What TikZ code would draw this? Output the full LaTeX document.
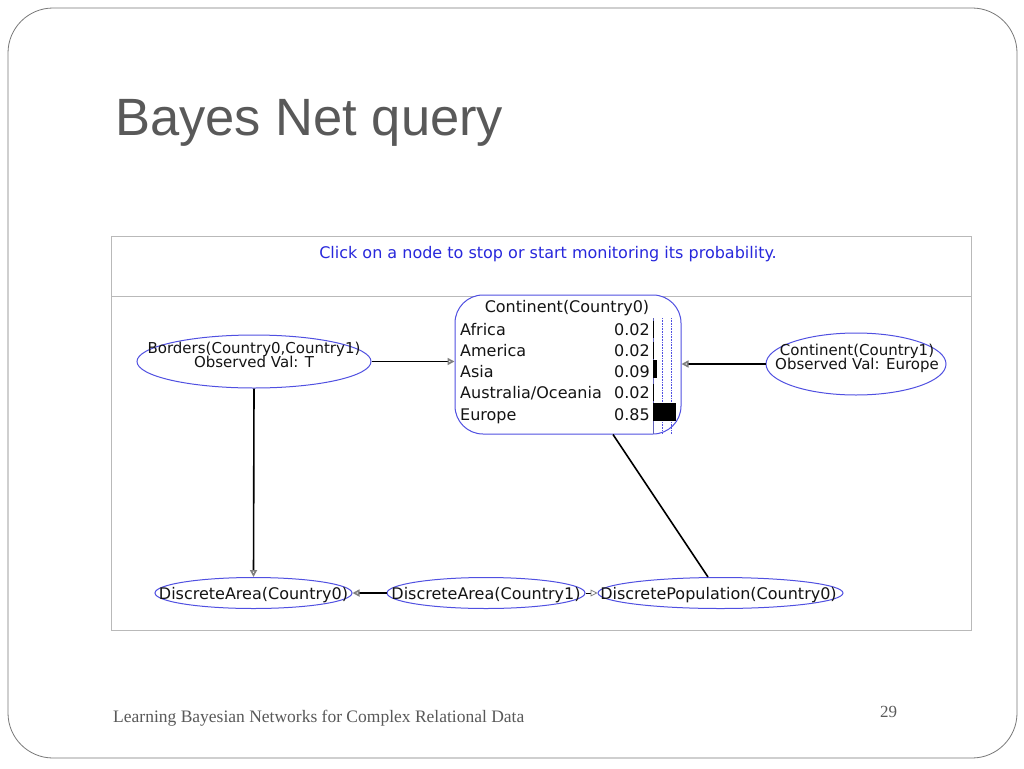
\documentclass[tikz,border=0pt]{standalone}
\usepackage{fontspec}
\setmainfont{Liberation Sans}
\newfontfamily\uifont{DejaVu Sans}
\newfontfamily\footfont{Liberation Serif}
\usetikzlibrary{shapes.geometric,arrows.meta,calc}
\definecolor{nodeblue}{RGB}{80,80,225}
\definecolor{clickblue}{RGB}{40,40,220}
\definecolor{titlegray}{RGB}{89,89,89}
\definecolor{uitext}{RGB}{20,20,20}
\definecolor{framegray}{RGB}{120,120,120}
\definecolor{panelgray}{RGB}{185,185,185}
\tikzset{
  ell/.style={draw=nodeblue, line width=1pt, ellipse, inner sep=0pt, fill=white},
  ui/.style={font=\uifont\fontsize{16}{12}\selectfont, text=uitext, inner sep=0pt},
  uis/.style={font=\uifont\fontsize{15}{12}\selectfont, text=uitext, inner sep=0pt},
  bnedge/.style={draw=black, line width=1.6pt, -{Triangle[open,length=7pt,width=7pt,color=gray]}},
  plainedge/.style={draw=black, line width=1.6pt},
}
\begin{document}
\begin{tikzpicture}[x=1pt,y=-1pt]
\useasboundingbox (0,0) rectangle (1024,768);
\fill[white] (0,0) rectangle (1024,768);
% slide frame
\draw[framegray, line width=0.8pt, rounded corners=45pt] (8,8) rectangle (1017,758);
% title
\node[anchor=base west, font=\fontsize{52.5}{60}\selectfont, text=titlegray, inner sep=0pt] (title) at (115,135) {Bayes Net query};
% panel
\draw[panelgray, line width=0.8pt] (111,236) rectangle (971,630);
\draw[panelgray, line width=0.8pt] (111,296) -- (971,296);
\node[anchor=base, font=\uifont\fontsize{16}{18}\selectfont, text=clickblue, inner sep=0pt] (hint) at (548,258) {Click on a node to stop or start monitoring its probability.};

% Continent(Country0) node
\node[draw=nodeblue, line width=1pt, fill=white, rounded corners=28pt, minimum width=226pt, minimum height=139pt, inner sep=0pt] (c0) at (568,364.5) {};
\node[ui, anchor=base] (c0t) at (567,312) {Continent(Country0)};
\draw[nodeblue!60!gray, line width=0.8pt] (653,318) -- (653,434);
\draw[nodeblue, line width=0.6pt, densely dotted] (662,318) -- (662,434);
\draw[nodeblue, line width=0.6pt, densely dotted] (671,318) -- (671,434);
\foreach \lab/\val/\yy [count=\i] in {Africa/0.02/335, America/0.02/356, Asia/0.09/377, Australia\slash Oceania/0.02/398, Europe/0.85/420}{
  \node[ui, anchor=base west] (r\i) at (460,\yy) {\lab};
  \node[ui, anchor=base east] (v\i) at (650,\yy) {\val};
}
\fill[black] (653,321) rectangle (654.2,338);
\fill[black] (653,342) rectangle (654.2,359);
\fill[black] (653,360) rectangle (656.5,378);
\fill[black] (653,384) rectangle (654.2,401);
\fill[black] (653,403) rectangle (676,421);

% Borders node
\node[ell, minimum width=234pt, minimum height=53pt] (bor) at (254,361.5) {};
\node[uis, anchor=base] (bor1) at (254,353) {Borders(Country0,Country1)};
\node[uis, anchor=base] (bor2) at (254,367.5) {Observed Val: T};

% Continent(Country1) node
\node[ell, minimum width=180pt, minimum height=62pt] (c1) at (856,364) {};
\node[uis, anchor=base] (c11) at (857,355) {Continent(Country1)};
\node[uis, anchor=base] (c12) at (857,369.5) {Observed Val: Europe};

% bottom nodes
\node[ell, minimum width=197pt, minimum height=31pt] (da0) at (253.5,593) {};
\node[ui, anchor=base] (da0t) at (253.5,599) {DiscreteArea(Country0)};
\node[ell, minimum width=198pt, minimum height=31pt] (da1) at (486,593) {};
\node[ui, anchor=base] (da1t) at (486,599) {DiscreteArea(Country1)};
\node[ell, minimum width=245pt, minimum height=31pt] (dp) at (720.5,593) {};
\node[ui, anchor=base] (dpt) at (718.5,599) {DiscretePopulation(Country0)};

% edges
\draw[bnedge] (bor.east) -- (bor.east -| c0.west);
\draw[bnedge] (c1.west) -- (c1.west -| c0.east);
\draw[bnedge] (bor.south) -- (da0.north);
\draw[bnedge] (da1.west) -- (da0.east);
\draw[bnedge, line width=0.8pt] (da1.east) -- (dp.west);
\draw[plainedge] ([xshift=45pt]c0.south) -- ([xshift=-12.5pt]dp.north);

% footer
\node[anchor=base west, font=\footfont\fontsize{17.5}{20}\selectfont, text=titlegray, inner sep=0pt] (foot) at (113,722) {Learning Bayesian Networks for Complex Relational Data};
\node[anchor=base west, font=\footfont\fontsize{17}{20}\selectfont, text=titlegray, inner sep=0pt] (pnum) at (880,717) {29};
\end{tikzpicture}
\end{document}
